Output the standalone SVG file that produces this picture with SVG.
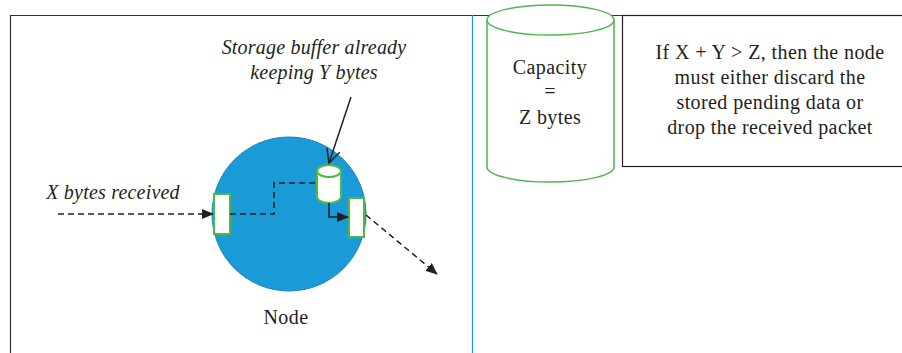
<svg xmlns="http://www.w3.org/2000/svg" width="902" height="353" viewBox="0 0 902 353">
<style>
.t{font-family:"Liberation Serif","Times New Roman",serif;font-size:20px;fill:#231f20;letter-spacing:0.4px}
.i{font-style:italic;letter-spacing:0.2px}
.g{fill:#fff;stroke:#4cb848;stroke-width:2}
.d{fill:none;stroke:#231f20;stroke-width:1.5;stroke-dasharray:6,4}
.s{fill:none;stroke:#231f20;stroke-width:1.5}
</style>
<defs>
<marker id="ah" markerWidth="12" markerHeight="10" refX="11" refY="5" orient="auto" markerUnits="userSpaceOnUse">
<path d="M0,0 L12,5 L0,10 Z" fill="#231f20"/>
</marker>
<marker id="open" markerWidth="16" markerHeight="14" refX="14" refY="7" orient="auto" markerUnits="userSpaceOnUse">
<path d="M0,0 L14,7 L0,14" fill="none" stroke="#231f20" stroke-width="1.5"/>
</marker>
</defs>
<g id="frame">
<path d="M10.5,353 V15.5 H902" fill="none" stroke="#333" stroke-width="1.2"/>
<line x1="472.5" y1="15" x2="472.5" y2="353" stroke="#1a9bd7" stroke-width="1.2"/>
</g>
<g id="node">
<circle cx="289" cy="214" r="77" fill="#1a9bd7" stroke="#1786bd" stroke-width="1"/>
<text class="t" x="286" y="324" text-anchor="middle">Node</text>
</g>
<g id="in-port"><rect class="g" x="214" y="194" width="16" height="40"/></g>
<g id="out-port"><rect class="g" x="349" y="198" width="15" height="39"/></g>
<g id="buffer">
<path class="g" d="M317,171 V197 A12,6 0 0 0 341,197 V171"/>
<ellipse class="g" cx="329" cy="171" rx="12" ry="6"/>
</g>
<g id="capacity">
<path d="M487,20 V167 A63.5,15 0 0 0 614,167 V20" fill="#fff" stroke="#4cb848" stroke-width="1.5"/>
<ellipse cx="550.5" cy="20" rx="63.5" ry="15" fill="#fff" stroke="#4cb848" stroke-width="1.5"/>
<text class="t" x="550" y="74" text-anchor="middle">Capacity</text>
<text class="t" x="550" y="98" text-anchor="middle">=</text>
<text class="t" x="550" y="124" text-anchor="middle">Z bytes</text>
</g>
<g id="rule">
<rect x="622.5" y="15.5" width="290" height="151" fill="#fff" stroke="#231f20" stroke-width="1.2"/>
<text class="t" x="770" y="59" text-anchor="middle">If X + Y &gt; Z, then the node</text>
<text class="t" x="770" y="84" text-anchor="middle">must either discard the</text>
<text class="t" x="770" y="109" text-anchor="middle">stored pending data or</text>
<text class="t" x="770" y="134" text-anchor="middle">drop the received packet</text>
</g>
<g id="labels">
<text class="t i" x="314" y="54" text-anchor="middle">Storage buffer already</text>
<text class="t i" x="314" y="79" text-anchor="middle">keeping Y bytes</text>
<text class="t i" x="113" y="199" text-anchor="middle">X bytes received</text>
</g>
<g id="connectors">
<line class="d" x1="58" y1="214" x2="213" y2="214" marker-end="url(#ah)"/>
<path class="d" d="M230,214 H274 V183 H317"/>
<path class="s" d="M329,203 V217 H348" marker-end="url(#ah)"/>
<line class="d" x1="366" y1="215" x2="437" y2="274" marker-end="url(#ah)"/>
<line class="s" x1="351" y1="97" x2="329" y2="163" marker-end="url(#open)"/>
</g>
</svg>
